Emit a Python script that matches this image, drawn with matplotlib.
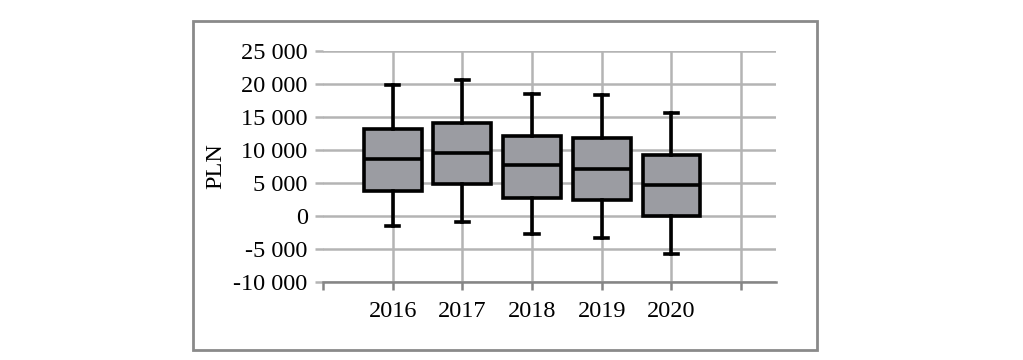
import matplotlib.pyplot as plt
from matplotlib.patches import Rectangle
from matplotlib.ticker import FuncFormatter, MultipleLocator

# Box plot values (PLN)
years = ['2016', '2017', '2018', '2019', '2020']
whisker_low = [-1600, -950, -2700, -3300, -5800]
q1 = [3750, 4850, 2750, 2400, 0]
median = [8550, 9500, 7650, 7100, 4650]
q3 = [13100, 14050, 12100, 11800, 9150]
whisker_high = [19800, 20550, 18400, 18350, 15550]

stats = []
for i, y in enumerate(years):
    stats.append({'label': y, 'whislo': whisker_low[i], 'q1': q1[i], 'med': median[i],
                  'q3': q3[i], 'whishi': whisker_high[i], 'fliers': []})

plt.rcParams['font.family'] = ['Liberation Serif', 'DejaVu Serif']

fig = plt.figure(figsize=(10.23, 3.6), dpi=100)
ax = fig.add_axes([0.3157, 0.2167, 0.4429, 0.6425])

positions = list(range(1, len(years) + 1))
ax.bxp(stats, positions=positions, widths=0.83, patch_artist=True, showfliers=False,
       boxprops=dict(facecolor='#9b9ca2', edgecolor='black', linewidth=2.6),
       medianprops=dict(color='black', linewidth=2.6),
       whiskerprops=dict(color='black', linewidth=2.6),
       capprops=dict(color='black', linewidth=2.6), capwidths=0.19)

ax.set_xlim(0, len(years) + 1.5)
ax.set_ylim(-10000, 25000)
ax.yaxis.set_major_locator(MultipleLocator(5000))
ax.yaxis.set_major_formatter(FuncFormatter(lambda v, p: f"{v:,.0f}".replace(",", " ")))

ax.set_xticks(range(0, len(years) + 2))
ax.set_xticklabels([''] + years + [''])

ax.set_axisbelow(True)
ax.grid(True, color='#b4b4b4', linewidth=1.8)
ax.get_xgridlines()[0].set_visible(False)

for s in ['top', 'right', 'left']:
    ax.spines[s].set_visible(False)
ax.spines['bottom'].set_color('#858585')
ax.spines['bottom'].set_linewidth(1.8)

ax.tick_params(axis='y', length=6, width=1.8, color='#b4b4b4', labelsize=17.5, pad=5)
ax.tick_params(axis='x', length=6, width=1.8, color='#858585', labelsize=17.5, pad=8)

ax.set_ylabel('PLN', fontsize=17.5, labelpad=5)

fig.patches.append(Rectangle((192.7 / 1023, 1 - 350 / 360), 624 / 1023, 329.3 / 360,
                             transform=fig.transFigure, fill=False,
                             edgecolor='#8a8a8a', linewidth=2))

fig.savefig('out.png', dpi=100)
